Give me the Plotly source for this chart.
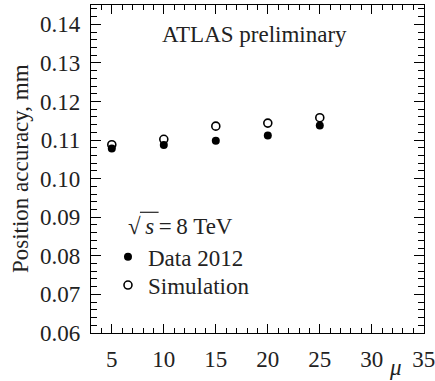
import plotly.graph_objects as go

mu = [5, 10, 15, 20, 25]
data_2012 = [0.1078, 0.1087, 0.1098, 0.1112, 0.1138]
simulation = [0.1088, 0.1102, 0.1136, 0.1144, 0.1158]

FONT = "Liberation Serif"
FS = 23
FC = "#222"

fig = go.Figure()
fig.add_trace(go.Scatter(x=mu, y=data_2012, mode="markers", name="Data 2012",
                         legend="legend",
                         marker=dict(symbol="circle", size=8, color="black")))
fig.add_trace(go.Scatter(x=mu, y=simulation, mode="markers", name="Simulation",
                         legend="legend2",
                         marker=dict(symbol="circle-open", size=8, color="black",
                                     line=dict(width=1.6, color="black"))))

common = dict(showgrid=False, zeroline=False, showline=True, linecolor="black", linewidth=1.3,
              mirror="allticks", ticks="inside", tickcolor="black", tickwidth=1.2,
              tickfont=dict(family=FONT, size=FS, color=FC), ticklabelstandoff=5)

fig.update_xaxes(range=[3, 35.02], tick0=5, dtick=5, ticklen=9, ticklabeloverflow="allow",
                 minor=dict(dtick=1, ticklen=5, ticks="inside", tickcolor="black", tickwidth=1.1),
                 **common)
fig.update_yaxes(range=[0.06, 0.145], tick0=0.06, dtick=0.01, ticklen=10, tickformat=".2f",
                 minor=dict(dtick=0.002, ticklen=6, ticks="inside", tickcolor="black", tickwidth=1.1),
                 **common)

# overline of the square root
fig.add_shape(type="line", xref="paper", yref="paper",
              x0=0.147, x1=0.203, y0=0.368, y1=0.368,
              line=dict(color=FC, width=1.2))

leg = dict(xanchor="left", yanchor="middle", bgcolor="rgba(0,0,0,0)", itemwidth=30,
           font=dict(family=FONT, size=FS, color=FC), itemclick=False)

fig.update_layout(
    template="none",
    width=435, height=381,
    margin=dict(l=91, r=11, t=5, b=48),
    paper_bgcolor="white", plot_bgcolor="white",
    font=dict(family=FONT, size=FS, color=FC),
    showlegend=True,
    legend=dict(x=0.051, y=0.232, **leg),
    legend2=dict(x=0.051, y=0.146, **leg),
    annotations=[
        dict(text="ATLAS preliminary", xref="paper", yref="paper", x=0.49, y=0.91,
             xanchor="center", yanchor="middle", showarrow=False),
        dict(text="√\u2009<i>s</i>\u2009=\u20098 TeV", xref="paper", yref="paper", x=0.105, y=0.325,
             xanchor="left", yanchor="middle", showarrow=False),
        dict(text="Position accuracy, mm", xref="paper", yref="paper", x=-0.213, y=0.5,
             xanchor="center", yanchor="middle", textangle=-90, showarrow=False),
        dict(text="<i>μ</i>", xref="paper", yref="paper", x=0.915, y=-0.105,
             xanchor="center", yanchor="middle", showarrow=False),
    ],
)

fig.write_html("out.html")
